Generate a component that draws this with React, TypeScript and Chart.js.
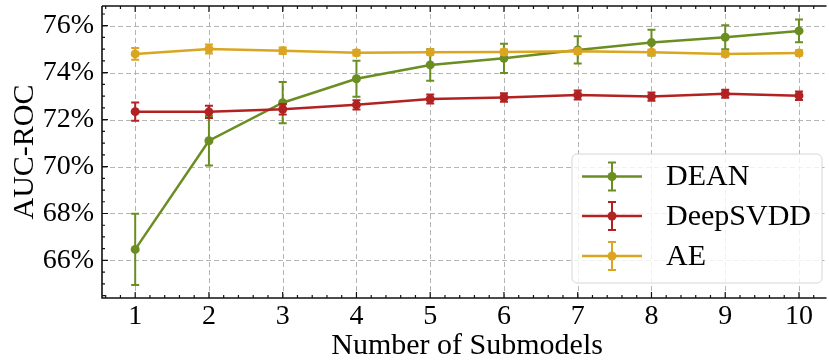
import React, { useEffect, useRef } from "react";
import { Chart, registerables } from "chart.js";
Chart.register(...registerables);

const submodels = [1, 2, 3, 4, 5, 6, 7, 8, 9, 10];
const seriesNames = ["DEAN", "DeepSVDD", "AE"];
const seriesColors = ["#6b8e23", "#b22222", "#daa520"];
const deanMean = [66.47, 71.1, 72.72, 73.74, 74.33, 74.61, 74.97, 75.28, 75.51, 75.78];
const deanErr = [1.52, 1.05, 0.88, 0.77, 0.67, 0.62, 0.58, 0.55, 0.51, 0.48];
const svddMean = [72.34, 72.33, 72.44, 72.63, 72.88, 72.94, 73.05, 72.98, 73.1, 73.02];
const svddErr = [0.39, 0.26, 0.22, 0.2, 0.19, 0.18, 0.19, 0.18, 0.17, 0.18];
const aeMean = [74.8, 75.01, 74.93, 74.85, 74.87, 74.88, 74.91, 74.87, 74.8, 74.84];
const aeErr = [0.25, 0.19, 0.14, 0.12, 0.11, 0.11, 0.11, 0.11, 0.11, 0.11];
const yTicks = [66, 68, 70, 72, 74, 76];
const xLabel = "Number of Submodels";
const yLabel = "AUC-ROC";

const means = [deanMean, svddMean, aeMean];
const errs = [deanErr, svddErr, aeErr];

const FONT = "'Liberation Serif', 'Times New Roman', serif";
const X_MIN = 0.55;
const X_MAX = 10.346;
const Y_MIN = 64.4;
const Y_MAX = 76.84;

const framePlugin = {
  id: "frame",
  beforeDatasetsDraw(chart: any) {
    const { ctx, chartArea: a, scales } = chart;
    const xs = scales.x, ys = scales.y;
    ctx.save();
    ctx.strokeStyle = "#b4b4b4";
    ctx.lineWidth = 1;
    ctx.setLineDash([5, 3]);
    for (const v of submodels) {
      const px = Math.round(xs.getPixelForValue(v)) + 0.5;
      ctx.beginPath();
      ctx.moveTo(px, a.top);
      ctx.lineTo(px, a.bottom);
      ctx.stroke();
    }
    for (const v of yTicks) {
      const py = Math.round(ys.getPixelForValue(v)) + 0.5;
      ctx.beginPath();
      ctx.moveTo(a.left, py);
      ctx.lineTo(a.right, py);
      ctx.stroke();
    }
    ctx.restore();
  },
  afterDatasetDraw(chart: any, args: any) {
    const i = args.index;
    const { ctx, scales } = chart;
    const xs = scales.x, ys = scales.y;
    ctx.save();
    ctx.strokeStyle = seriesColors[i];
    ctx.lineWidth = 2;
    for (let k = 0; k < submodels.length; k++) {
      const px = xs.getPixelForValue(submodels[k]);
      const y1 = ys.getPixelForValue(means[i][k] + errs[i][k]);
      const y2 = ys.getPixelForValue(means[i][k] - errs[i][k]);
      ctx.beginPath();
      ctx.moveTo(px, y1);
      ctx.lineTo(px, y2);
      ctx.moveTo(px - 4, y1);
      ctx.lineTo(px + 4, y1);
      ctx.moveTo(px - 4, y2);
      ctx.lineTo(px + 4, y2);
      ctx.stroke();
    }
    ctx.restore();
  },
  afterDatasetsDraw(chart: any) {
    const { ctx, chartArea: a, scales } = chart;
    const xs = scales.x, ys = scales.y;
    ctx.save();
    ctx.strokeStyle = "#111";
    ctx.lineWidth = 1.6;
    ctx.beginPath();
    ctx.moveTo(a.left, a.top);
    ctx.lineTo(a.right + 2, a.top);
    ctx.moveTo(a.left, a.top);
    ctx.lineTo(a.left, a.bottom);
    ctx.lineTo(a.right + 2, a.bottom);
    ctx.stroke();
    ctx.lineWidth = 1.2;
    ctx.beginPath();
    for (let t = 0; t <= 60; t++) {
      const v = 0.6 + t * 0.2;
      if (v < X_MIN || v > X_MAX) continue;
      const px = xs.getPixelForValue(v);
      const major = Math.abs(v - Math.round(v)) < 1e-6;
      const len = major ? 6 : 3;
      ctx.moveTo(px, a.bottom);
      ctx.lineTo(px, a.bottom - len);
      ctx.moveTo(px, a.top);
      ctx.lineTo(px, a.top + len);
    }
    for (let t = 0; t <= 40; t++) {
      const v = 64.5 + t * 0.5;
      if (v < Y_MIN || v > Y_MAX) continue;
      const py = ys.getPixelForValue(v);
      const major = yTicks.includes(v);
      const len = major ? 6 : 3;
      ctx.moveTo(a.left, py);
      ctx.lineTo(a.left + len, py);
    }
    ctx.stroke();
    ctx.restore();
  },
  afterDraw(chart: any) {
    const { ctx, chartArea: a, scales } = chart;
    const xs = scales.x;
    ctx.save();
    ctx.fillStyle = "#000";
    ctx.font = `30px ${FONT}`;
    ctx.textAlign = "center";
    ctx.textBaseline = "alphabetic";
    ctx.fillText(xLabel, xs.getPixelForValue(5.5), 354);
    ctx.save();
    ctx.translate(33, (a.top + a.bottom) / 2);
    ctx.rotate(-Math.PI / 2);
    ctx.fillText(yLabel, 0, 0);
    ctx.restore();

    const bx = 572, by = 154, bw = 250, bh = 129, r = 5;
    ctx.beginPath();
    ctx.moveTo(bx + r, by);
    ctx.arcTo(bx + bw, by, bx + bw, by + bh, r);
    ctx.arcTo(bx + bw, by + bh, bx, by + bh, r);
    ctx.arcTo(bx, by + bh, bx, by, r);
    ctx.arcTo(bx, by, bx + bw, by, r);
    ctx.closePath();
    ctx.fillStyle = "rgba(255,255,255,0.8)";
    ctx.fill();
    ctx.strokeStyle = "#d6d6d6";
    ctx.lineWidth = 1;
    ctx.stroke();
    const rows = [176.5, 216, 256];
    for (let i = 0; i < 3; i++) {
      const cy = rows[i];
      const c = seriesColors[i];
      ctx.strokeStyle = c;
      ctx.lineWidth = 2.5;
      ctx.beginPath();
      ctx.moveTo(582, cy);
      ctx.lineTo(642, cy);
      ctx.stroke();
      ctx.lineWidth = 2;
      ctx.beginPath();
      ctx.moveTo(612, cy - 14);
      ctx.lineTo(612, cy + 14);
      ctx.moveTo(608, cy - 14);
      ctx.lineTo(616, cy - 14);
      ctx.moveTo(608, cy + 14);
      ctx.lineTo(616, cy + 14);
      ctx.stroke();
      ctx.fillStyle = c;
      ctx.beginPath();
      ctx.arc(612, cy, 4.5, 0, Math.PI * 2);
      ctx.fill();
      ctx.fillStyle = "#000";
      ctx.textAlign = "left";
      ctx.textBaseline = "middle";
      ctx.font = `30px ${FONT}`;
      ctx.fillText(seriesNames[i], 666, cy + 1);
    }
    ctx.restore();
  },
};

export default function App() {
  const ref = useRef<HTMLCanvasElement | null>(null);
  useEffect(() => {
    if (!ref.current) return;
    const datasets = seriesNames.map((name, i) => ({
      label: name,
      data: submodels.map((x, k) => ({ x, y: means[i][k] })),
      borderColor: seriesColors[i],
      backgroundColor: seriesColors[i],
      borderWidth: 2.5,
      pointRadius: 4.5,
      pointBorderWidth: 0,
      pointHoverRadius: 4.5,
      tension: 0,
      order: 3 - i,
    }));
    const chart = new Chart(ref.current, {
      type: "line",
      data: { datasets },
      options: {
        responsive: false,
        animation: false,
        devicePixelRatio: 1,
        layout: { padding: { top: 6, right: 0, left: 0, bottom: 0 } },
        plugins: { legend: { display: false }, tooltip: { enabled: false } },
        scales: {
          x: {
            type: "linear",
            min: X_MIN,
            max: X_MAX,
            grid: { display: false, drawTicks: false },
            border: { display: false },
            ticks: { color: "#000", font: { family: FONT, size: 28 }, padding: 2, maxRotation: 0 },
            afterBuildTicks: (s: any) => {
              s.ticks = submodels.map((v) => ({ value: v }));
            },
            afterFit: (s: any) => {
              s.height = 62;
              s.paddingLeft = 0;
              s.paddingRight = 0;
            },
          },
          y: {
            type: "linear",
            min: Y_MIN,
            max: Y_MAX,
            grid: { display: false, drawTicks: false },
            border: { display: false },
            ticks: {
              color: "#000",
              font: { family: FONT, size: 28 },
              padding: 8,
              callback: (v: any) => `${v}%`,
            },
            afterBuildTicks: (s: any) => {
              s.ticks = yTicks.map((v) => ({ value: v }));
            },
            afterFit: (s: any) => {
              s.width = 102;
              s.paddingTop = 0;
              s.paddingBottom = 0;
            },
          },
        },
      },
      plugins: [framePlugin],
    });
    return () => chart.destroy();
  }, []);
  return (
    <div style={{ position: "absolute", left: 0, top: 0, width: 829, height: 360, background: "#fff" }}>
      <canvas ref={ref} width={829} height={360} style={{ display: "block" }} />
    </div>
  );
}
